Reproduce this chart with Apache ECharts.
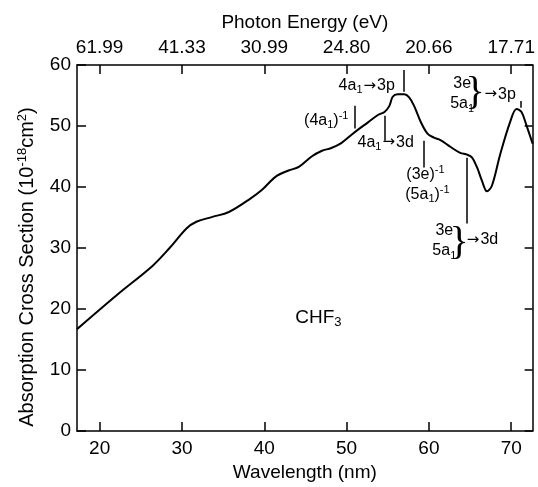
<!DOCTYPE html>
<html><head><meta charset="utf-8">
<script src="https://cdn.jsdelivr.net/npm/echarts@6/dist/echarts.min.js"></script>
<style>html,body{margin:0;padding:0;background:#fff}#c{width:538px;height:487px}</style>
</head><body><div id="c"></div>
<script>
// Wavelength (nm) and absorption cross section (1e-18 cm^2)
const wavelength = [17.25, 22.1, 26.45, 28.5, 30.55, 31.75, 33.7, 35.7, 38.1, 39.7, 41.4, 42.95, 44.2, 45.75, 46.95, 48.15, 49.35, 51.0, 52.6, 53.8, 54.6, 55.2, 55.6, 56.2, 57.0, 57.6, 58.2, 59.0, 59.8, 60.6, 61.4, 62.6, 63.8, 64.65, 65.25, 65.85, 66.45, 67.05, 67.65, 68.65, 69.85, 70.65, 71.25, 71.85, 72.6];
const crossSection = [16.7, 22.3, 27.1, 30.0, 33.2, 34.3, 35.1, 35.9, 37.9, 39.5, 41.7, 42.7, 43.3, 45.0, 45.9, 46.4, 47.2, 49.0, 50.6, 51.8, 52.3, 53.3, 54.8, 55.2, 55.2, 54.7, 53.3, 50.7, 48.8, 48.1, 47.7, 46.6, 45.6, 45.3, 44.8, 43.2, 41.0, 39.3, 40.2, 45.3, 50.6, 52.8, 52.3, 50.1, 47.1];

const wavelengthTicks = [20, 30, 40, 50, 60, 70];
const energyLabels = ['61.99', '41.33', '30.99', '24.80', '20.66', '17.71'];

// Annotation marker segments, in data units [wavelength, cross section]
const annotationLines = [
  [[56.93, 59.2], [56.93, 55.6]],
  [[50.99, 53.3], [50.99, 49.6]],
  [[54.6, 51.7], [54.6, 47.6]],
  [[59.42, 47.6], [59.42, 43.2]],
  [[64.64, 44.8], [64.64, 34.0]],
  [[71.14, 54.1], [71.14, 53.0]]
];
// Annotation texts, centred at [wavelength, cross section]
const annotationTexts = [
  [52.45, 56.6, '4a{s|1}{a|→}3p'],
  [47.53, 50.86, '(4a{s|1}){u|-1}'],
  [54.75, 47.3, '4a{s|1}{a|→}3d'],
  [59.58, 42.0, '(3e){u|-1}'],
  [59.82, 38.8, '(5a{s|1}){u|-1}'],
  [61.87, 32.9, '3e'],
  [61.87, 29.5, '5a{s|1}'],
  [63.67, 30.8, '}'],
  [66.45, 31.3, '{a|→}3d'],
  [64.04, 57.0, '3e'],
  [64.04, 53.6, '5a{s|1}'],
  [65.6, 55.4, '}'],
  [68.6, 55.2, '{a|→}3p'],
  [46.57, 18.6, '{c|CHF}{cs|3}']
];

const FONT = '"Liberation Sans", Arial, Helvetica, sans-serif';
const INK = '#000';
const rich = {
  s: {fontSize: 11, fontFamily: FONT, color: INK, verticalAlign: 'bottom', padding: [9, 0, 0, 0]},
  u: {fontSize: 11, fontFamily: FONT, color: INK, verticalAlign: 'top', padding: [0, 0, 9, 0]},
  a: {fontSize: 15, fontFamily: '"DejaVu Sans", sans-serif', color: INK, padding: [0, 1, 0, 1]},
  c: {fontSize: 19, fontFamily: FONT, color: INK},
  cs: {fontSize: 13, fontFamily: FONT, color: INK, verticalAlign: 'bottom', padding: [10, 0, 0, 0]}
};

const chart = echarts.init(document.getElementById('c'), null, {renderer: 'canvas'});

const axisCommon = {
  type: 'value',
  splitLine: {show: false},
  axisLine: {show: true, onZero: false, lineStyle: {color: INK, width: 1.5}},
  axisTick: {show: true, inside: true, length: 9, lineStyle: {color: INK, width: 1.5}},
  nameTextStyle: {color: INK, fontSize: 19, fontFamily: FONT}
};
const tickFont = {color: INK, fontSize: 19, fontFamily: FONT};

chart.setOption({
  animation: false,
  backgroundColor: '#fff',
  grid: {left: 77, right: 2, top: 65, bottom: 48, containLabel: false},
  xAxis: [
    Object.assign({}, axisCommon, {
      position: 'bottom', min: 17.25, max: 72.6,
      axisTick: Object.assign({}, axisCommon.axisTick, {customValues: wavelengthTicks}),
      axisLabel: Object.assign({customValues: wavelengthTicks, margin: 8}, tickFont),
      name: 'Wavelength (nm)', nameLocation: 'middle', nameGap: 32
    }),
    Object.assign({}, axisCommon, {
      position: 'top', min: 17.25, max: 72.6,
      axisTick: Object.assign({}, axisCommon.axisTick, {customValues: wavelengthTicks}),
      axisLabel: Object.assign({
        customValues: wavelengthTicks, margin: 8,
        formatter: v => { const i = wavelengthTicks.indexOf(v); return i >= 0 ? energyLabels[i] : ''; }
      }, tickFont),
      name: 'Photon Energy (eV)', nameLocation: 'middle', nameGap: 33
    })
  ],
  yAxis: [
    Object.assign({}, axisCommon, {
      position: 'left', min: 0, max: 60, interval: 10,
      axisLabel: Object.assign({margin: 6}, tickFont),
      name: 'Absorption Cross Section (10{u|-18}cm{u|2})', nameLocation: 'middle', nameGap: 39,
      nameTextStyle: {color: INK, fontSize: 20, fontFamily: FONT, padding: [0, 38, 0, 0],
        rich: {u: {fontSize: 13, fontFamily: FONT, color: INK, verticalAlign: 'top', padding: [0, 0, 9, 0]}}}
    }),
    Object.assign({}, axisCommon, {
      position: 'right', min: 0, max: 60, interval: 10,
      axisTick: Object.assign({}, axisCommon.axisTick, {length: 8}),
      axisLabel: {show: false}
    })
  ],
  series: [
    {
      type: 'line',
      xAxisIndex: 0, yAxisIndex: 0,
      data: wavelength.map((x, i) => [x, crossSection[i]]),
      smooth: 0.35,
      symbol: 'none',
      lineStyle: {color: INK, width: 2},
      clip: true,
      markLine: {
        silent: true,
        symbol: ['none', 'none'],
        label: {show: false},
        lineStyle: {color: INK, width: 1.5, type: 'solid', opacity: 1},
        emphasis: {disabled: true},
        data: annotationLines.map(([a, b]) => [{coord: a}, {coord: b}])
      }
    },
    {
      type: 'scatter',
      xAxisIndex: 0, yAxisIndex: 0,
      symbolSize: 0,
      silent: true,
      z: 5,
      itemStyle: {color: INK, opacity: 1},
      data: annotationTexts.map(([x, y, t]) => ({
        name: t, value: [x, y],
        label: t === '}' ? {fontSize: 40, fontFamily: '"Liberation Serif", serif'} : {}
      })),
      label: {
        show: true, position: [0, 0], align: 'center', verticalAlign: 'middle',
        color: INK, fontSize: 16, fontFamily: FONT, opacity: 1,
        textBorderWidth: 0, textShadowBlur: 0,
        formatter: p => p.name,
        rich: rich
      }
    }
  ]
});
</script>
</body></html>
